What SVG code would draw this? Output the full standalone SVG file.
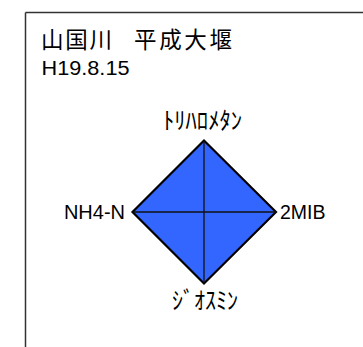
<svg xmlns="http://www.w3.org/2000/svg" width="363" height="347" viewBox="0 0 363 347">
<style>
.lat{font-family:"Liberation Sans",Arial,sans-serif;fill:#000}
.jp{font-family:"Noto Sans CJK JP","Liberation Sans",sans-serif;fill:#000}
.kana{font-family:"Noto Sans CJK JP",sans-serif;fill:#000;font-weight:400}
.frame{fill:none;stroke:#333;stroke-width:1.5}
.shape{fill:#3366FF;stroke:#000;stroke-width:2.2;stroke-linejoin:miter}
.axis{stroke:#111;stroke-width:1.3}
</style>
<rect width="363" height="347" fill="#fff"/>
<g id="frame">
<path class="frame" d="M25.5,12.5 H364 M25.5,12.5 V348"/>
</g>
<g id="title">
<text class="jp" y="48" font-size="22.5"><tspan x="41" textLength="71">山国川</tspan><tspan x="134" textLength="98">平成大堰</tspan></text>
<text class="lat" x="41.5" y="75" font-size="20" textLength="88" lengthAdjust="spacingAndGlyphs">H19.8.15</text>
</g>
<g id="chart">
<polygon class="shape" points="204,140.5 276,212 204,283.5 132.5,212"/>
</g>
<g id="connectors">
<line class="axis" x1="204" y1="140.5" x2="204" y2="283.5"/>
<line class="axis" x1="132.5" y1="212" x2="276" y2="212"/>
</g>
<g id="label-top"><text class="kana" x="163" y="129" font-size="24" textLength="79" lengthAdjust="spacingAndGlyphs">ﾄﾘﾊﾛﾒﾀﾝ</text></g>
<g id="label-left"><text class="lat" x="125" y="219" font-size="20" text-anchor="end">NH4-N</text></g>
<g id="label-right"><text class="lat" x="280" y="219" font-size="19.5">2MIB</text></g>
<g id="label-bottom"><text class="kana" x="172" y="309" font-size="24" textLength="66" lengthAdjust="spacingAndGlyphs">ｼﾞｵｽﾐﾝ</text></g>
</svg>
